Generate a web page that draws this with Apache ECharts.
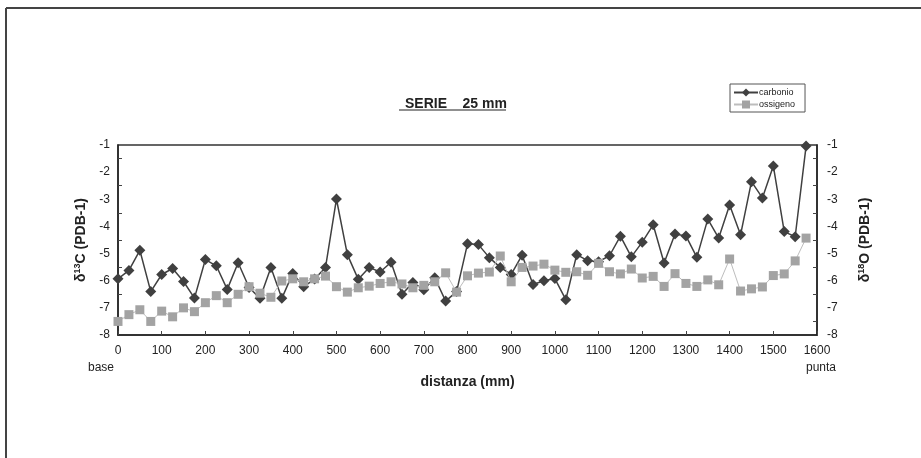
<!DOCTYPE html>
<html>
<head>
<meta charset="utf-8">
<script src="https://cdn.jsdelivr.net/npm/echarts@6/dist/echarts.min.js"></script>
<style>
  html, body { margin: 0; padding: 0; background: #fff; }
  #chart { width: 921px; height: 458px; }
</style>
</head>
<body>
<div id="chart"></div>
<script>
// distanza (mm), un campione ogni 25 mm
const distanza = [
  0, 25, 50, 75, 100, 125, 150, 175, 200, 225, 250, 275, 300, 325, 350, 375,
  400, 425, 450, 475, 500, 525, 550, 575, 600, 625, 650, 675, 700, 725, 750, 775,
  800, 825, 850, 875, 900, 925, 950, 975, 1000, 1025, 1050, 1075, 1100, 1125, 1150, 1175,
  1200, 1225, 1250, 1275, 1300, 1325, 1350, 1375, 1400, 1425, 1450, 1475, 1500, 1525, 1550, 1575
];

const carbonio = [
  -5.93, -5.62, -4.88, -6.40, -5.77, -5.55, -6.03, -6.64, -5.22, -5.45, -6.32, -5.34, -6.25, -6.65, -5.51, -6.65,
  -5.73, -6.22, -5.94, -5.51, -2.99, -5.04, -5.95, -5.51, -5.68, -5.32, -6.50, -6.07, -6.33, -5.89, -6.75, -6.40,
  -4.64, -4.67, -5.15, -5.51, -5.77, -5.06, -6.14, -6.00, -5.92, -6.70, -5.04, -5.26, -5.30, -5.08, -4.36, -5.12,
  -4.58, -3.94, -5.35, -4.28, -4.35, -5.14, -3.73, -4.43, -3.21, -4.31, -2.35, -2.95, -1.77, -4.19, -4.38, -1.04
];

const ossigeno = [
  -7.50, -7.25, -7.07, -7.50, -7.12, -7.33, -7.00, -7.14, -6.81, -6.55, -6.81, -6.50, -6.22, -6.46, -6.61, -6.01,
  -5.93, -6.04, -5.93, -5.83, -6.22, -6.42, -6.26, -6.20, -6.10, -6.04, -6.12, -6.26, -6.17, -6.04, -5.71, -6.42,
  -5.82, -5.72, -5.68, -5.09, -6.04, -5.51, -5.46, -5.39, -5.61, -5.69, -5.67, -5.80, -5.36, -5.67, -5.75, -5.57,
  -5.90, -5.84, -6.21, -5.74, -6.10, -6.21, -5.97, -6.15, -5.20, -6.38, -6.30, -6.23, -5.81, -5.75, -5.27, -4.43
];

const pairs = (ys) => distanza.map((x, i) => [x, ys[i]]);

const font = 'Liberation Sans, Arial, sans-serif';

const yAxisCommon = {
  type: 'value',
  min: -8,
  max: -1,
  interval: 1,
  nameLocation: 'middle',
  nameRotate: 90,
  axisLine: { show: true, lineStyle: { color: '#222', width: 1.5 } },
  axisTick: { show: true, inside: true, length: 0 },
  minorTick: { show: true, splitNumber: 2, length: 4, lineStyle: { color: '#444' } },
  splitLine: { show: false },
  axisLabel: { color: '#222', fontFamily: font, fontSize: 12 }
};

const nameRich = {
  n: { fontFamily: font, fontSize: 14, fontWeight: 'bold', color: '#222' },
  sup: { fontFamily: font, fontSize: 9, fontWeight: 'bold', color: '#222', verticalAlign: 'top', padding: [0, 0, 8, 0] }
};

const option = {
  animation: false,
  backgroundColor: '#fff',
  textStyle: { fontFamily: font },
  title: {
    text: 'SERIE    25 mm',
    left: 400,
    top: 92,
    textStyle: { fontFamily: font, fontSize: 14, fontWeight: 'bold', color: '#222' }
  },
  legend: {
    orient: 'vertical',
    left: 730,
    top: 84,
    padding: [4, 10, 3, 3],
    itemGap: 3,
    itemWidth: 24,
    itemHeight: 10,
    borderColor: '#555',
    borderWidth: 1,
    textStyle: { fontFamily: font, fontSize: 9, color: '#222', padding: [0, 0, 0, -4] },
    data: ['carbonio', 'ossigeno']
  },
  grid: {
    left: 118,
    right: 104,
    top: 145,
    height: 190,
    show: true,
    borderColor: '#333',
    borderWidth: 1.5
  },
  xAxis: {
    type: 'value',
    min: 0,
    max: 1600,
    interval: 100,
    name: 'distanza (mm)',
    nameLocation: 'middle',
    nameGap: 40,
    nameTextStyle: { fontFamily: font, fontSize: 14, fontWeight: 'bold', color: '#222' },
    axisLine: { show: true, lineStyle: { color: '#222', width: 1.5 } },
    axisTick: { show: true, inside: true, length: 4, lineStyle: { color: '#444' } },
    splitLine: { show: false },
    axisLabel: {
      color: '#222', fontFamily: font, fontSize: 12, margin: 10,
      formatter: (v) => String(v)
    }
  },
  yAxis: [
    Object.assign({}, yAxisCommon, {
      position: 'left',
      name: '{n|δ}{sup|13}{n|C (PDB-1)}',
      nameGap: 25,
      nameTextStyle: { rich: nameRich },
      axisLabel: Object.assign({}, yAxisCommon.axisLabel, { margin: 8 })
    }),
    Object.assign({}, yAxisCommon, {
      position: 'right',
      name: '{n|δ}{sup|18}{n|O (PDB-1)}',
      nameGap: 40,
      nameTextStyle: { rich: nameRich },
      axisLabel: Object.assign({}, yAxisCommon.axisLabel, { margin: 10 })
    })
  ],
  graphic: [
    // cornice della figura
    { type: 'line', shape: { x1: 6, y1: 8, x2: 921, y2: 8 }, style: { stroke: '#444', lineWidth: 2 } },
    { type: 'line', shape: { x1: 6, y1: 8, x2: 6, y2: 458 }, style: { stroke: '#444', lineWidth: 2 } },
    // sottolineatura del titolo
    { type: 'line', shape: { x1: 399, y1: 110, x2: 506, y2: 110 }, style: { stroke: '#222', lineWidth: 1.2 } },
    { type: 'text', left: 88, top: 362, style: { text: 'base', fontFamily: font, fontSize: 12, fill: '#222' } },
    { type: 'text', left: 806, top: 362, style: { text: 'punta', fontFamily: font, fontSize: 12, fill: '#222' } }
  ],
  series: [
    {
      name: 'carbonio',
      type: 'line',
      yAxisIndex: 0,
      data: pairs(carbonio),
      symbol: 'diamond',
      symbolSize: 11,
      z: 2,
      itemStyle: { color: '#404040' },
      lineStyle: { color: '#404040', width: 1.5 }
    },
    {
      name: 'ossigeno',
      type: 'line',
      yAxisIndex: 1,
      data: pairs(ossigeno),
      symbol: 'rect',
      symbolSize: 9,
      z: 3,
      itemStyle: { color: '#a3a3a3' },
      lineStyle: { color: '#bdbdbd', width: 1 }
    }
  ]
};

const chart = echarts.init(document.getElementById('chart'));
chart.setOption(option);
</script>
</body>
</html>
